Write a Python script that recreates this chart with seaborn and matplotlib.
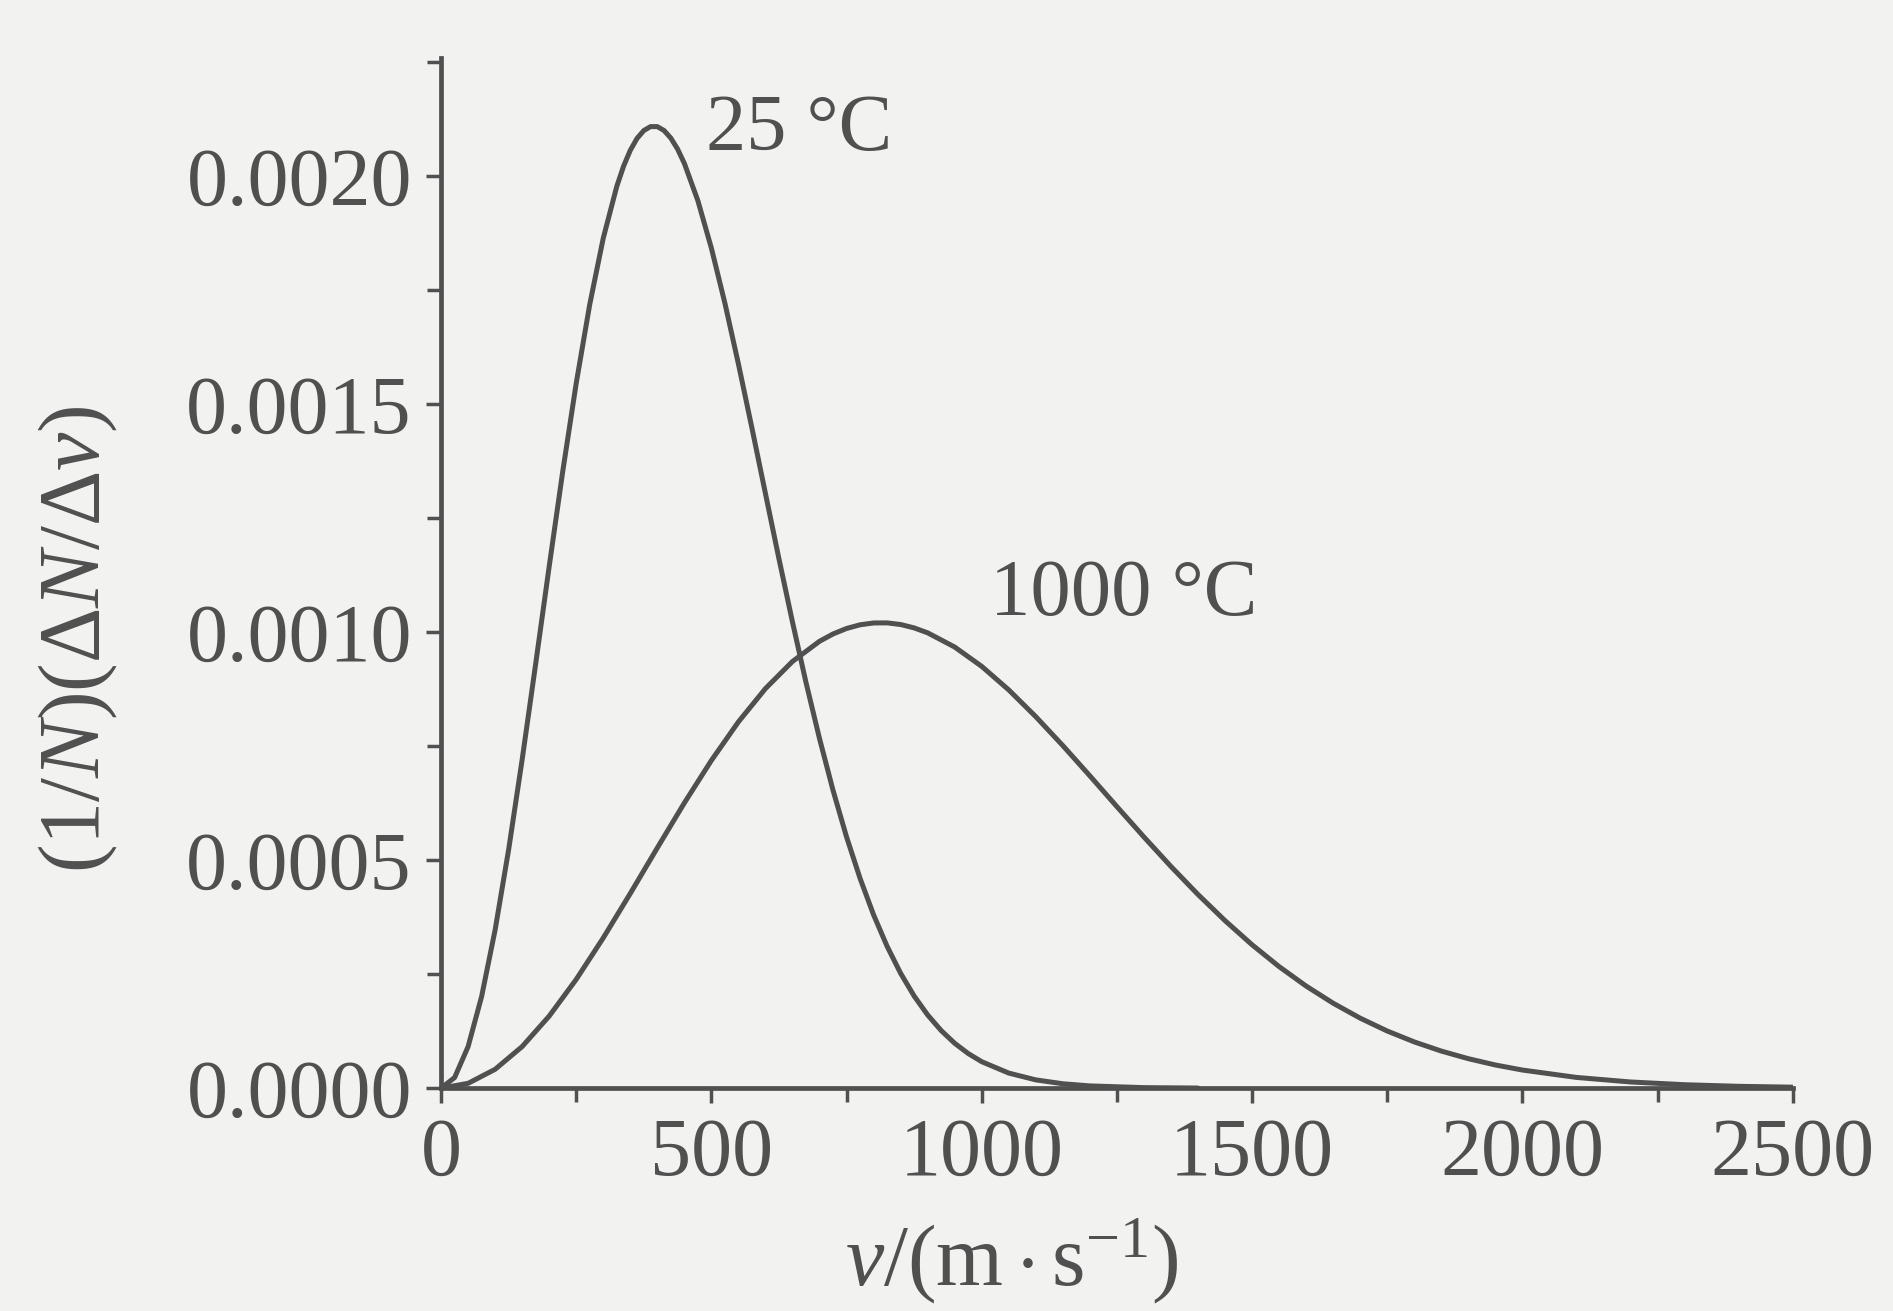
import matplotlib
matplotlib.use("Agg")
import matplotlib.pyplot as plt
from matplotlib.ticker import MultipleLocator, FormatStrFormatter
import numpy as np
import pandas as pd
import seaborn as sns

# speeds (m/s) and distribution values
v_25 = [0, 25, 50, 75, 100, 125, 150, 175, 200, 225, 250, 275, 300, 325,
        337.5, 350, 362.5, 375, 387.5, 400, 412.5, 425, 437.5, 450, 475, 500,
        525, 550, 575, 600, 625, 650, 675, 700, 725, 750, 775, 800, 825, 850,
        875, 900, 925, 950, 975, 1000, 1050, 1100, 1150, 1200, 1300, 1400]
f_25 = [0.0, 0.0000231, 0.0000911, 0.0002009, 0.0003472, 0.0005232, 0.0007207,
        0.0009307, 0.0011443, 0.0013522, 0.0015461, 0.0017189, 0.0018642,
        0.0019777, 0.0020218, 0.0020569, 0.0020830, 0.0021002, 0.0021089,
        0.0021088, 0.0021002, 0.0020836, 0.0020595, 0.0020282, 0.0019464,
        0.0018423, 0.0017216, 0.0015883, 0.0014477, 0.0013040, 0.0011608,
        0.0010222, 0.0008897, 0.0007666, 0.0006532, 0.0005509, 0.0004601,
        0.0003801, 0.0003111, 0.0002519, 0.0002020, 0.0001605, 0.0001263,
        0.0000984, 0.0000759, 0.0000580, 0.0000330, 0.0000181, 0.0000096,
        0.0000049, 0.0000011, 0.0000002]

v_1000 = [0, 50, 100, 150, 200, 250, 300, 350, 400, 450, 500, 550, 600, 650,
          700, 725, 750, 775, 800, 825, 850, 875, 900, 950, 1000, 1050, 1100,
          1150, 1200, 1250, 1300, 1350, 1400, 1450, 1500, 1550, 1600, 1650,
          1700, 1750, 1800, 1850, 1900, 1950, 2000, 2100, 2200, 2300, 2400,
          2500]
f_1000 = [0.0, 0.0000105, 0.0000413, 0.0000912, 0.0001580, 0.0002385,
          0.0003295, 0.0004270, 0.0005270, 0.0006255, 0.0007187, 0.0008033,
          0.0008763, 0.0009358, 0.0009800, 0.0009961, 0.0010081, 0.0010162,
          0.0010202, 0.0010204, 0.0010168, 0.0010094, 0.0009986, 0.0009674,
          0.0009250, 0.0008734, 0.0008147, 0.0007513, 0.0006850, 0.0006175,
          0.0005509, 0.0004862, 0.0004247, 0.0003674, 0.0003145, 0.0002666,
          0.0002239, 0.0001863, 0.0001535, 0.0001253, 0.0001014, 0.0000813,
          0.0000646, 0.0000508, 0.0000397, 0.0000235, 0.0000135, 0.0000075,
          0.0000040, 0.0000021]

curve_labels = ["25 °C", "1000 °C"]

df = pd.concat([
    pd.DataFrame({"v": v_25, "f": f_25, "T": curve_labels[0]}),
    pd.DataFrame({"v": v_1000, "f": f_1000, "T": curve_labels[1]}),
])

sns.set_theme(style="ticks")
plt.rcParams["font.family"] = ["Liberation Serif", "DejaVu Serif"]
plt.rcParams["mathtext.fontset"] = "custom"
plt.rcParams["mathtext.rm"] = "Liberation Serif"
plt.rcParams["mathtext.it"] = "Liberation Serif:italic"

ink = "#505050"
bg = "#f2f2f0"

fig = plt.figure(figsize=(18.93, 13.11), dpi=100, facecolor=bg)
ax = fig.add_axes([0.233, 0.170, 0.714, 0.786])
ax.set_facecolor(bg)

sns.lineplot(data=df, x="v", y="f", units="T", estimator=None,
             color=ink, linewidth=3.6, sort=False, legend=False, ax=ax,
             solid_joinstyle="round", solid_capstyle="round")

ax.set_xlim(0, 2500)
ax.set_ylim(0, 0.00226)
ax.xaxis.set_major_locator(MultipleLocator(500))
ax.xaxis.set_minor_locator(MultipleLocator(250))
ax.yaxis.set_major_locator(MultipleLocator(0.0005))
ax.yaxis.set_minor_locator(MultipleLocator(0.00025))
ax.yaxis.set_major_formatter(FormatStrFormatter("%.4f"))

sns.despine(ax=ax)
for side in ["left", "bottom"]:
    ax.spines[side].set_color(ink)
    ax.spines[side].set_linewidth(3.4)
ax.tick_params(which="major", length=11, width=2.5, color=ink,
               labelcolor=ink, labelsize=59, pad=10)
ax.tick_params(which="minor", length=10, width=2.5, color=ink)

ax.set_xlabel(r"$\mathit{v}/(\mathrm{m}\cdot\mathrm{s}^{-1})$",
              fontsize=62, color=ink)
ax.set_ylabel(r"$(1/\mathit{N})(\Delta\mathit{N}/\Delta\mathit{v})$",
              fontsize=62, color=ink)
ax.xaxis.set_label_coords(0.422, -0.168)
ax.yaxis.set_label_coords(-0.268, 0.436)
ax.xaxis.label.set_va("center")
ax.yaxis.label.set_va("center")

ax.text(490, 0.00210, curve_labels[0], fontsize=58, color=ink,
        ha="left", va="center")
ax.text(1015, 0.00108, curve_labels[1], fontsize=58, color=ink,
        ha="left", va="center")

fig.savefig("out.png", dpi=100, facecolor=bg)
